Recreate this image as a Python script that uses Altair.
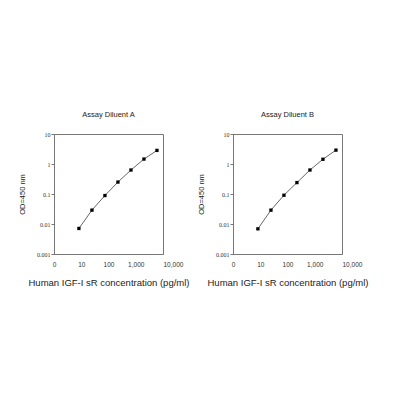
import altair as alt
import pandas as pd

conc = [8.2, 24.7, 74, 222, 667, 2000, 6000]
od_a = [0.0071, 0.029, 0.089, 0.25, 0.63, 1.46, 2.84]
od_b = [0.0069, 0.029, 0.091, 0.24, 0.63, 1.44, 2.9]
titles = ["Assay Diluent A", "Assay Diluent B"]
x_ticks = [1, 10, 100, 1000, 10000]
y_ticks = [0.001, 0.01, 0.1, 1, 10]

x_label_expr = "datum.value == 1 ? '0' : format(datum.value, ',')"
y_label_expr = ("datum.value < 0.005 ? '0.001' : datum.value < 0.05 ? '0.01' : "
                "datum.value < 0.5 ? '0.1' : datum.value < 5 ? '1' : '10'")


def panel(vals, title):
    df = pd.DataFrame({"conc": conc, "od": vals})
    x = alt.X("conc:Q",
              scale=alt.Scale(type="log", domain=[1, 10000], nice=False),
              axis=alt.Axis(values=x_ticks, labelExpr=x_label_expr,
                            title="Human IGF-I sR concentration (pg/ml)",
                            titleFontSize=9.5, titleFontWeight="normal",
                            titleFont="Liberation Sans",
                            titlePadding=10, labelFontSize=6.5, labelPadding=7,
                            labelFont="Liberation Sans",
                            labelAlign={"condition": {"test": "datum.value >= 10000",
                                                      "value": "left"},
                                        "value": "center"},
                            labelOverlap=False, labelBound=False,
                            tickSize=0, grid=False, domainColor="#777",
                            labelColor="#333", titleColor="#222"))
    y = alt.Y("od:Q",
              scale=alt.Scale(type="log", domain=[0.001, 10], nice=False),
              axis=alt.Axis(values=y_ticks, labelExpr=y_label_expr,
                            title="OD=450 nm", titleFontSize=7.5,
                            titleFont="Liberation Sans",
                            titleFontWeight="normal", titlePadding=10,
                            labelFontSize=6, labelPadding=1, tickSize=3,
                            labelFont="Liberation Serif",
                            labelOverlap=False, labelBound=False,
                            tickColor="#777", grid=False, domainColor="#777",
                            labelColor="#333", titleColor="#222"))
    base = alt.Chart(df).encode(x=x, y=y)
    line = base.mark_line(color="#666", strokeWidth=1)
    pts = base.mark_square(color="black", size=11, opacity=1)
    return alt.layer(line, pts).properties(
        width=109, height=120,
        title=alt.TitleParams(title, fontSize=7.5, fontWeight="normal",
                              font="Liberation Sans",
                              color="#222", offset=13))


chart = alt.hconcat(panel(od_a, titles[0]), panel(od_b, titles[1]),
                    spacing=7).configure_view(
    stroke="#777", strokeWidth=1).properties(
    padding={"left": 10, "top": 102, "right": 5, "bottom": 5})

chart.save("out.html", embed_options={"renderer": "svg", "actions": False})
